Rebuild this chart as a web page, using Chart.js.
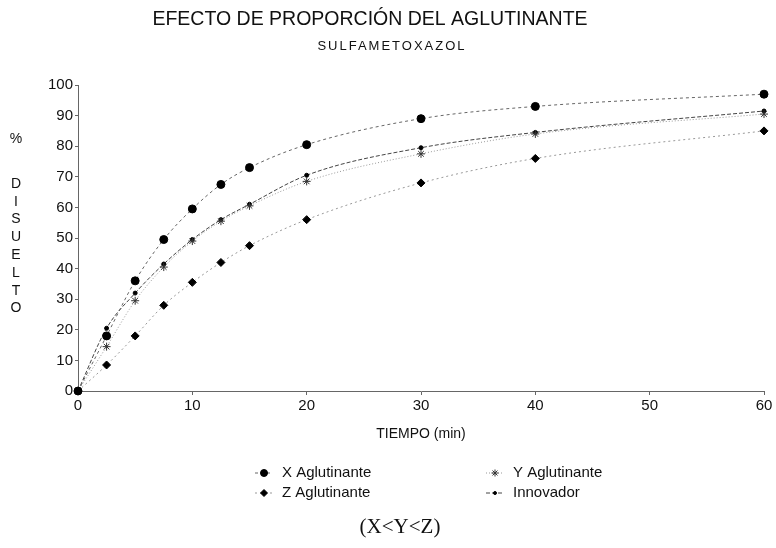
<!DOCTYPE html>
<html>
<head>
<meta charset="utf-8">
<script src="https://cdn.jsdelivr.net/npm/chart.js@4/dist/chart.umd.min.js"></script>
<style>
  html, body { margin: 0; padding: 0; background: #fff; }
  #wrap { width: 776px; height: 548px; }
</style>
</head>
<body>
<div id="wrap"><canvas id="chart" width="776" height="548"></canvas></div>
<script>
// tiempos de muestreo (min)
const tiempos = [0, 2.5, 5, 7.5, 10, 12.5, 15, 20, 30, 40, 60];

// % disuelto
const xAglutinante = [0, 18, 36, 49.5, 59.5, 67.5, 73, 80.5, 89, 93, 97];
const yAglutinante = [0, 14.5, 29.5, 40.5, 49, 55.5, 60.5, 68.5, 77.5, 84, 90.5];
const zAglutinante = [0, 8.5, 18, 28, 35.5, 42, 47.5, 56, 68, 76, 85];
const innovador = [0, 20.5, 32, 41.5, 49.5, 56, 61, 70.5, 79.5, 84.5, 91.5];

const etiquetas = ['X Aglutinante', 'Y Aglutinante', 'Z Aglutinante', 'Innovador'];
const tituloY = ['D', 'I', 'S', 'U', 'E', 'L', 'T', 'O'];

const FONT = "'Liberation Sans Narrow', 'Liberation Sans', Arial, sans-serif";

function puntos(valores) {
    return tiempos.map((t, i) => ({ x: t, y: valores[i] }));
}

// textos y leyenda dibujados a mano
const decoracion = {
    id: 'decoracion',
    afterDraw(chart) {
        const ctx = chart.ctx;
        ctx.save();
        ctx.fillStyle = '#111';
        ctx.textAlign = 'center';
        ctx.textBaseline = 'middle';

        ctx.font = "19.5px " + FONT;
        ctx.fillText('EFECTO DE PROPORCIÓN DEL AGLUTINANTE', 370, 20);
        ctx.font = "13px " + FONT;
        if ('letterSpacing' in ctx) ctx.letterSpacing = '2px';
        ctx.fillText('SULFAMETOXAZOL', 392, 46);
        if ('letterSpacing' in ctx) ctx.letterSpacing = '0px';

        ctx.font = "14px " + FONT;
        ctx.fillText('%', 16, 139);
        tituloY.forEach((l, i) => ctx.fillText(l, 16, 184 + i * 17.8));

        // leyenda
        const cols = [255, 486];
        const rows = [473, 493];
        etiquetas.forEach((txt, k) => {
            const ds = chart.data.datasets[k];
            const x0 = cols[k % 2];
            const y0 = rows[Math.floor(k / 2)];
            ctx.save();
            ctx.strokeStyle = ds.borderColor;
            ctx.lineWidth = 1;
            ctx.setLineDash(ds.borderDash || []);
            ctx.beginPath();
            ctx.moveTo(x0, y0);
            ctx.lineTo(x0 + 18, y0);
            ctx.stroke();
            ctx.setLineDash([]);
            ctx.fillStyle = ds.pointBackgroundColor;
            ctx.strokeStyle = ds.pointBorderColor;
            if (Chart.helpers && Chart.helpers.drawPoint) {
                Chart.helpers.drawPoint(ctx, {
                    pointStyle: ds.pointStyle,
                    radius: ds.pointRadius - 0.5,
                    borderWidth: 1,
                    rotation: 0
                }, x0 + 9, y0);
            }
            ctx.restore();
            ctx.fillStyle = '#111';
            ctx.textAlign = 'left';
            ctx.font = "15px " + FONT;
            ctx.fillText(txt, x0 + 27, y0);
        });

        ctx.textAlign = 'center';
        ctx.font = "21px 'Liberation Serif', 'Times New Roman', serif";
        ctx.fillText('(X<Y<Z)', 400, 527);
        ctx.restore();
    }
};

new Chart(document.getElementById('chart'), {
    type: 'line',
    data: {
        datasets: [
            {
                label: etiquetas[0],
                data: puntos(xAglutinante),
                borderColor: '#666',
                borderWidth: 1,
                borderDash: [3, 3],
                pointStyle: 'circle',
                pointRadius: 4,
                pointBackgroundColor: '#000',
                pointBorderColor: '#000',
                cubicInterpolationMode: 'monotone',
                clip: false
            },
            {
                label: etiquetas[1],
                data: puntos(yAglutinante),
                borderColor: '#999',
                borderWidth: 1,
                borderDash: [1, 2],
                pointStyle: 'star',
                pointRadius: 4,
                pointBackgroundColor: '#000',
                pointBorderColor: '#333',
                cubicInterpolationMode: 'monotone',
                clip: false
            },
            {
                label: etiquetas[2],
                data: puntos(zAglutinante),
                borderColor: '#999',
                borderWidth: 1,
                borderDash: [2, 3],
                pointStyle: 'rectRot',
                pointRadius: 4,
                pointBackgroundColor: '#000',
                pointBorderColor: '#000',
                cubicInterpolationMode: 'monotone',
                clip: false
            },
            {
                label: etiquetas[3],
                data: puntos(innovador),
                borderColor: '#444',
                borderWidth: 1,
                borderDash: [4, 2],
                pointStyle: 'circle',
                pointRadius: 2,
                pointBackgroundColor: '#000',
                pointBorderColor: '#000',
                cubicInterpolationMode: 'monotone',
                clip: false
            }
        ]
    },
    options: {
        responsive: false,
        animation: false,
        layout: { padding: { left: 0, right: 12, top: 85, bottom: 101 } },
        plugins: {
            legend: { display: false },
            title: { display: false },
            tooltip: { enabled: false }
        },
        scales: {
            x: {
                type: 'linear',
                min: 0,
                max: 60,
                afterFit: s => { s.height = 56; },
                border: { display: true, color: '#666', dash: [2, 2] },
                grid: { drawOnChartArea: false, drawTicks: true, tickLength: 4, color: '#666' },
                ticks: { stepSize: 10, padding: 2, color: '#111', font: { family: FONT, size: 15 } },
                title: {
                    display: true,
                    text: 'TIEMPO (min)',
                    color: '#111',
                    padding: { top: 0, bottom: 4 },
                    font: { family: FONT, size: 14 }
                }
            },
            y: {
                min: 0,
                max: 100,
                afterFit: s => { s.width = 78; },
                border: { display: true, color: '#666', dash: [2, 2] },
                grid: { drawOnChartArea: false, drawTicks: true, tickLength: 3, color: '#666' },
                ticks: { stepSize: 10, padding: 2, color: '#111', font: { family: FONT, size: 15 } }
            }
        }
    },
    plugins: [decoracion]
});
</script>
</body>
</html>
